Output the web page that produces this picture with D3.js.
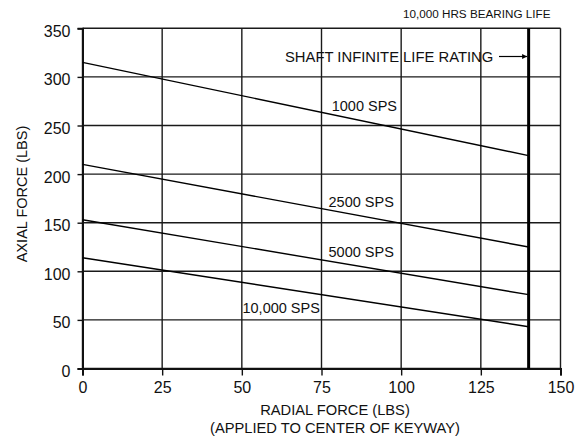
<!DOCTYPE html>
<html><head><meta charset="utf-8">
<script src="https://cdn.jsdelivr.net/npm/d3@7"></script>
<style>
html,body{margin:0;padding:0;background:#fff;}
svg{display:block;font-family:"Liberation Sans",Arial,sans-serif;}
</style></head>
<body><svg id="c" width="585" height="436"></svg>
<script>
// ---- data ----
const seriesNames = ["1000 SPS", "2500 SPS", "5000 SPS", "10,000 SPS"];
const radialForce = [0, 140];
const axial1000 = [315, 219];
const axial2500 = [210, 125];
const axial5000 = [153, 76];
const axial10000 = [114, 43];
const seriesValues = [axial1000, axial2500, axial5000, axial10000];
const xTicks = [0, 25, 50, 75, 100, 125, 150];
const yTicks = [0, 50, 100, 150, 200, 250, 300, 350];
const bearingLimit = 140;
// label anchor points (data units)
const labelX = [78.2, 77.2, 77.2, 50.2];
const labelY = [265, 166, 115, 57];

const svg = d3.select("#c");
const x = d3.scaleLinear().domain([0, 150]).range([82.5, 560.5]);
const y = d3.scaleLinear().domain([0, 350]).range([368.5, 28.3]);

// grid
const g = svg.append("g");
g.selectAll(".hg").data(yTicks).join("line")
  .attr("x1", x(0)).attr("x2", x(150)).attr("y1", d => y(d)).attr("y2", d => y(d))
  .attr("stroke", "#1a1a1a").attr("stroke-width", 1.4);
g.selectAll(".vg").data(xTicks).join("line")
  .attr("y1", y(0)).attr("y2", y(350)).attr("x1", d => x(d)).attr("x2", d => x(d))
  .attr("stroke", "#1a1a1a").attr("stroke-width", 1.4);

// axes
const xAxis = svg.append("g").attr("transform", `translate(0,${y(0)})`)
  .call(d3.axisBottom(x).tickValues(xTicks).tickSize(7).tickPadding(6));
const yAxis = svg.append("g").attr("transform", `translate(${x(0)},0)`)
  .call(d3.axisLeft(y).tickValues(yTicks).tickSize(5).tickPadding(7));
[xAxis, yAxis].forEach(a => {
  a.select(".domain").attr("stroke", "#111").attr("stroke-width", 2);
  a.selectAll(".tick line").attr("stroke", "#111").attr("stroke-width", 1.4);
  a.selectAll(".tick text").attr("fill", "#111").style("font-size", "16px")
    .style("font-family", '"Liberation Sans",Arial,sans-serif');
});
yAxis.selectAll(".tick text").attr("dy", "0.5em");
xAxis.selectAll(".tick text").attr("dy", "0.71em");

// bearing life line
svg.append("line")
  .attr("x1", x(bearingLimit)).attr("x2", x(bearingLimit))
  .attr("y1", y(0)).attr("y2", y(350))
  .attr("stroke", "#000").attr("stroke-width", 3);

// series lines
const line = d3.line().x((d, i) => x(radialForce[i])).y(d => y(d));
svg.selectAll(".s").data(seriesValues).join("path")
  .attr("d", d => line(d)).attr("fill", "none")
  .attr("stroke", "#000").attr("stroke-width", 1.4);

// series labels
svg.selectAll(".lab").data(seriesNames).join("text")
  .attr("x", (d, i) => x(labelX[i])).attr("y", (d, i) => y(labelY[i]))
  .style("font-size", "14.5px").attr("fill", "#111").text(d => d);

// annotations
svg.append("text").attr("x", 476.7).attr("y", 18.3).attr("text-anchor", "middle")
  .style("font-size", "11.7px").attr("fill", "#111").text("10,000 HRS BEARING LIFE");
svg.append("text").attr("x", 285).attr("y", 61.5)
  .style("font-size", "14.8px").attr("fill", "#111").text("SHAFT INFINITE LIFE RATING");
svg.append("defs").append("marker").attr("id", "ah")
  .attr("viewBox", "0 0 10 10").attr("refX", 10).attr("refY", 5)
  .attr("markerWidth", 7).attr("markerHeight", 5).attr("orient", "auto")
  .attr("markerUnits", "userSpaceOnUse")
  .append("path").attr("d", "M0,0L10,5L0,10z").attr("fill", "#000");
svg.append("line").attr("x1", 499).attr("x2", x(bearingLimit) - 1.5)
  .attr("y1", 56.5).attr("y2", 56.5).attr("stroke", "#000").attr("stroke-width", 1.2)
  .attr("marker-end", "url(#ah)");

// axis titles
svg.append("text").attr("x", 335).attr("y", 415).attr("text-anchor", "middle")
  .style("font-size", "14.7px").attr("fill", "#111").text("RADIAL FORCE (LBS)");
svg.append("text").attr("x", 335).attr("y", 433).attr("text-anchor", "middle")
  .style("font-size", "14.7px").attr("fill", "#111").text("(APPLIED TO CENTER OF KEYWAY)");
svg.append("text").attr("transform", "translate(26.5,194) rotate(-90)")
  .attr("text-anchor", "middle").style("font-size", "14.5px").attr("fill", "#111")
  .text("AXIAL FORCE (LBS)");
</script></body></html>
